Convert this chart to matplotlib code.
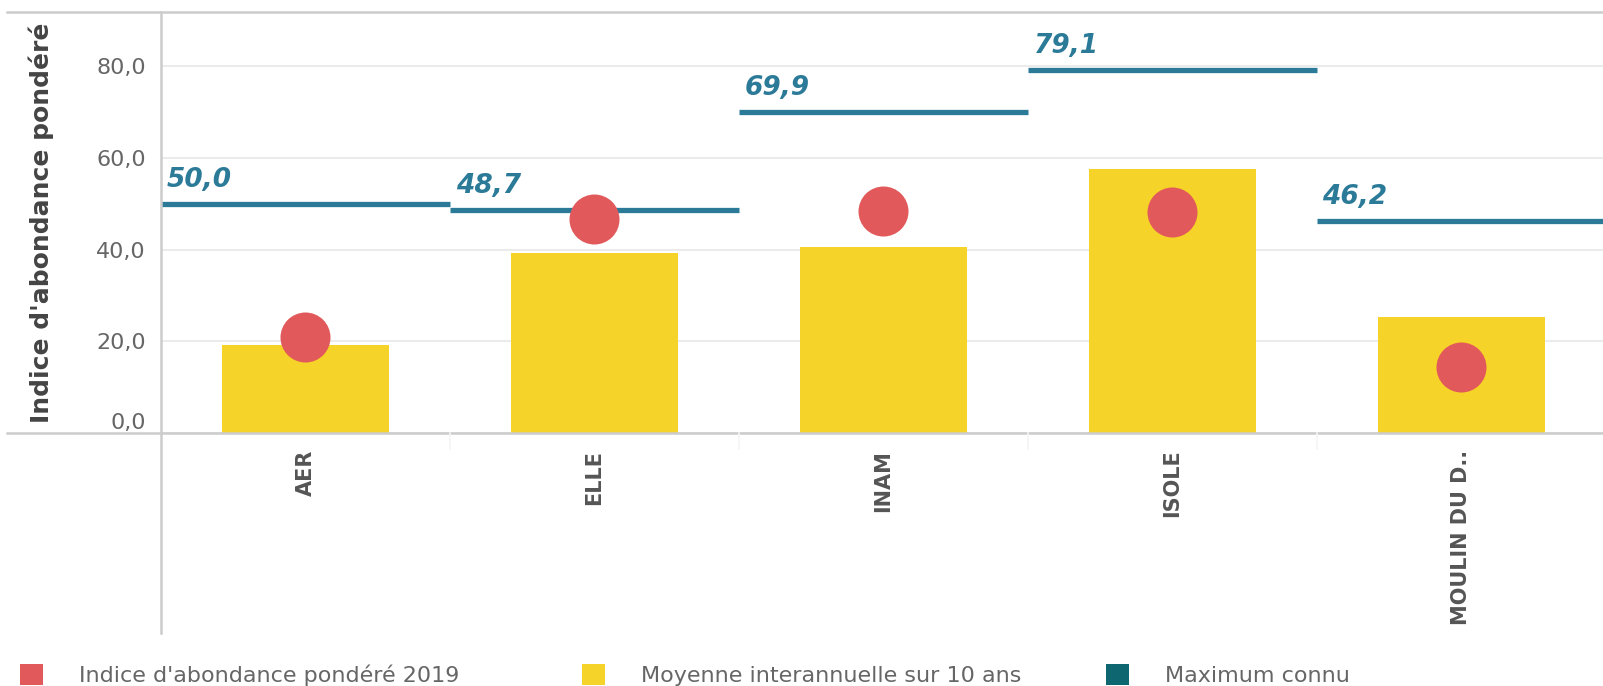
import matplotlib
matplotlib.use("Agg")
import matplotlib.pyplot as plt
from matplotlib.patches import Patch
from matplotlib.lines import Line2D
import numpy as np

categories = ["AER", "ELLE", "INAM", "ISOLE", "MOULIN DU D.."]
indice_2019 = [21.0, 46.6, 48.3, 48.2, 14.5]
moyenne_10ans = [19.2, 39.2, 40.6, 57.6, 25.2]
maximum_connu = [50.0, 48.7, 69.9, 79.1, 46.2]
max_labels = ["50,0", "48,7", "69,9", "79,1", "46,2"]
y_ticks = [0, 20, 40, 60, 80]
y_ticklabels = ["0,0", "20,0", "40,0", "60,0", "80,0"]

legend_labels = ["Indice d'abondance pondéré 2019",
                 "Moyenne interannuelle sur 10 ans",
                 "Maximum connu"]

C_YELLOW = "#F6D328"
C_RED = "#E2595B"
C_LINE = "#2B7A98"
C_LEG_TEAL = "#0E6670"
C_GRID = "#EBEBEB"
C_AXIS = "#CCCCCC"

W, H = 1603, 686
fig = plt.figure(figsize=(W / 100, H / 100), dpi=100)
fig.patch.set_facecolor("white")

left = 161 / W
right = 1.0
top = 1 - 12 / H
bottom = 1 - 433 / H
XMAX = 4.49
ax = fig.add_axes([left, bottom, right - left, top - bottom])

x = np.arange(len(categories))
ax.bar(x, moyenne_10ans, width=0.58, color=C_YELLOW, zorder=2)
ax.plot(x, indice_2019, linestyle="none", marker="o", markersize=36,
        color=C_RED, markeredgewidth=0, zorder=4)
for i, v in enumerate(maximum_connu):
    ax.hlines(v, i - 0.5, i + 0.5, color=C_LINE, linewidth=3.8, zorder=3)
    ax.annotate(max_labels[i], xy=(i - 0.5, v), xytext=(4, 8),
                textcoords="offset points", ha="left", va="bottom",
                fontsize=19, fontweight="bold", fontstyle="italic",
                color=C_LINE, zorder=5)

ax.set_xlim(-0.5, XMAX)
ax.set_ylim(0, 91.8)
ax.set_yticks(y_ticks)
ax.set_yticklabels(y_ticklabels)
ax.set_xticks(x)
ax.set_xticklabels(categories, rotation=90, va="top", ha="center")
ax.tick_params(axis="x", length=0, pad=12, labelsize=15, labelcolor="#555555")
for lbl in ax.get_xticklabels():
    lbl.set_fontweight("bold")
ax.tick_params(axis="y", length=0, pad=11, labelsize=16, labelcolor="#666666")
ax.get_yticklabels()[0].set_va("bottom")
ax.yaxis.grid(True, color=C_GRID, linewidth=1.5, zorder=0)
ax.set_axisbelow(True)
for s in ["top", "right", "bottom", "left"]:
    ax.spines[s].set_visible(False)

ax.set_ylabel("Indice d'abondance pondéré", fontsize=18, fontweight="bold",
              color="#444444")
ax.yaxis.set_label_coords(-(161 - 54) / (W * (right - left)), 0.5)

# frame lines (figure coordinates)
fig.add_artist(Line2D([7 / W, 1.0], [top, top], color=C_AXIS, linewidth=1.8))
fig.add_artist(Line2D([7 / W, 1.0], [bottom, bottom], color=C_AXIS, linewidth=1.8))
fig.add_artist(Line2D([left, left], [1 - 633 / H, top], color=C_AXIS, linewidth=1.8))
for b in range(1, len(categories)):
    xb = left + (right - left) * b / (XMAX + 0.5)
    fig.add_artist(Line2D([xb, xb], [bottom - 16 / H, bottom], color="#F5F5F5", linewidth=1.2))

# legend entries
leg_colors = [C_RED, C_YELLOW, C_LEG_TEAL]
leg_x = [20, 582, 1106]
for lab, col, lx in zip(legend_labels, leg_colors, leg_x):
    fig.legend(handles=[Patch(facecolor=col, edgecolor="none")], labels=[lab],
               loc="lower left", bbox_to_anchor=(lx / W, 0.0),
               frameon=False, handlelength=1.05, handleheight=1.05,
               handletextpad=1.6, borderaxespad=0.0, borderpad=0.0,
               fontsize=16, labelcolor="#666666")

fig.savefig("out.png", dpi=100, facecolor="white")
